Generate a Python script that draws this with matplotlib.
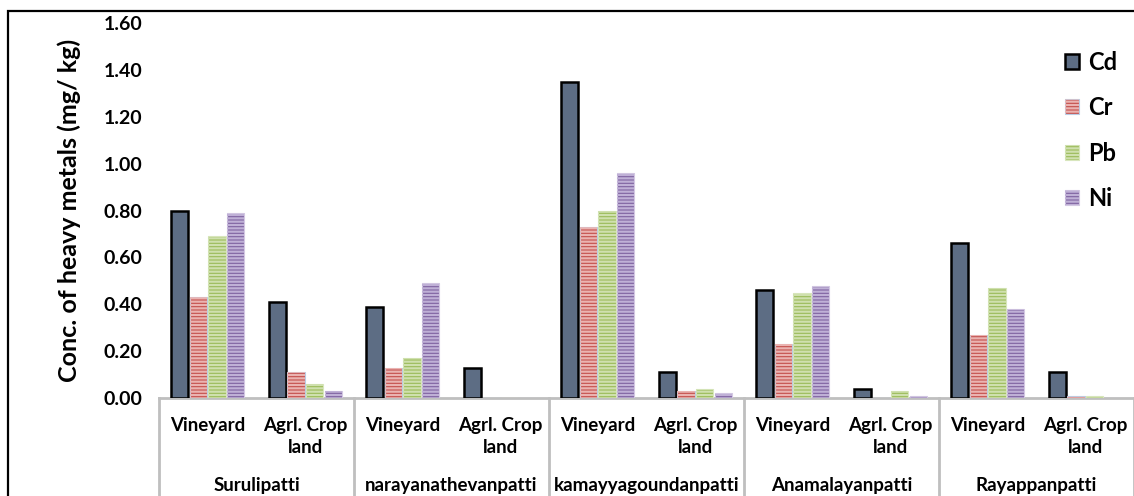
import numpy as np
import matplotlib.pyplot as plt
from matplotlib.patches import Rectangle

plt.rcParams['font.family'] = ['Lato', 'DejaVu Sans']
plt.rcParams['hatch.linewidth'] = 1.6

# villages and land-use types
villages = ['Surulipatti', 'narayanathevanpatti', 'kamayyagoundanpatti',
            'Anamalayanpatti', 'Rayappanpatti']
land_use = ['Vineyard', 'Agrl. Crop\nland']

# concentrations (mg/kg), ordered village by village: vineyard then crop land
cd = [0.80, 0.41, 0.39, 0.13, 1.35, 0.11, 0.46, 0.04, 0.66, 0.11]
cr = [0.43, 0.11, 0.13, 0.00, 0.73, 0.03, 0.23, 0.00, 0.27, 0.01]
pb = [0.69, 0.06, 0.17, 0.00, 0.80, 0.04, 0.45, 0.03, 0.47, 0.01]
ni = [0.79, 0.03, 0.49, 0.00, 0.96, 0.02, 0.48, 0.01, 0.38, 0.00]

metals = ['Cd', 'Cr', 'Pb', 'Ni']
series = [cd, cr, pb, ni]
# (base colour, stripe colour, outline colour)
styles = [('#5d6d84', None, 'black'),
          ('#c4504d', '#eab3b1', '#b9cde5'),
          ('#9bbb59', '#cfe0ae', '#d8e6bd'),
          ('#7f63a1', '#bfb0d6', '#d3c8e2')]

fig = plt.figure(figsize=(11.34, 4.96), dpi=100)
ax = fig.add_axes([159 / 1134, 1 - 398 / 496, 1 - 159 / 1134, (398 - 23) / 496])

x = np.arange(len(cd))
slot = 0.19
width = 0.175
handles = []
for i, (vals, (base, stripe, edge)) in enumerate(zip(series, styles)):
    pos = x + (i - 1.5) * slot
    if stripe is None:
        h = ax.bar(pos, vals, width, color=base, edgecolor=edge, linewidth=1.8, zorder=3)
        handles.append(h)
    else:
        h = ax.bar(pos, vals, width, color=base, edgecolor=edge, linewidth=0.8, zorder=3)
        s = ax.bar(pos, vals, width, facecolor='none', edgecolor=stripe,
                   hatch='-----', linewidth=0, zorder=4)
        handles.append((h, s))

ax.set_xlim(-0.5, len(cd) - 0.5)
ax.set_ylim(0, 1.6)
ax.set_yticks(np.arange(0, 1.61, 0.2))
ax.set_yticklabels(['%.2f' % v for v in np.arange(0, 1.61, 0.2)],
                   fontsize=14, fontweight='bold')
ax.tick_params(axis='y', length=0, pad=12)
ax.set_xticks([])
for sp in ['top', 'right', 'left']:
    ax.spines[sp].set_visible(False)
ax.spines['bottom'].set_color('#bfbfbf')
ax.spines['bottom'].set_linewidth(2)

ax.set_ylabel('Conc. of heavy metals (mg/ kg)', fontsize=18, fontweight='bold',
              labelpad=16)

# two-level category axis below the plot
trans = ax.get_xaxis_transform()
for k in range(len(villages) + 1):
    xb = 2 * k - 0.5
    ax.plot([xb, xb], [0, -0.32], color='#bfbfbf', lw=2, transform=trans, clip_on=False)
for j in range(len(cd)):
    ax.text(j, -0.05, land_use[j % 2], transform=trans, ha='center', va='top',
            fontsize=13.5, fontweight='bold', linespacing=1.37)
for k, name in enumerate(villages):
    ax.text(2 * k + 0.5, -0.232, name, transform=trans, ha='center', va='center',
            fontsize=13.5, fontweight='bold')

ax.legend(handles, metals, loc='upper right', bbox_to_anchor=(1.0, 0.97),
          frameon=False, prop={'weight': 'bold', 'size': 17},
          handlelength=0.6, handleheight=0.6, handletextpad=0.4, labelspacing=0.95,
          borderaxespad=0.3)

# outer frame
fig.patches.append(Rectangle((8 / 1134, -0.1), 1.2, 1.1 - 11 / 496, transform=fig.transFigure,
                             fill=False, edgecolor='black', lw=1.6))

fig.savefig('out.png', dpi=100)
